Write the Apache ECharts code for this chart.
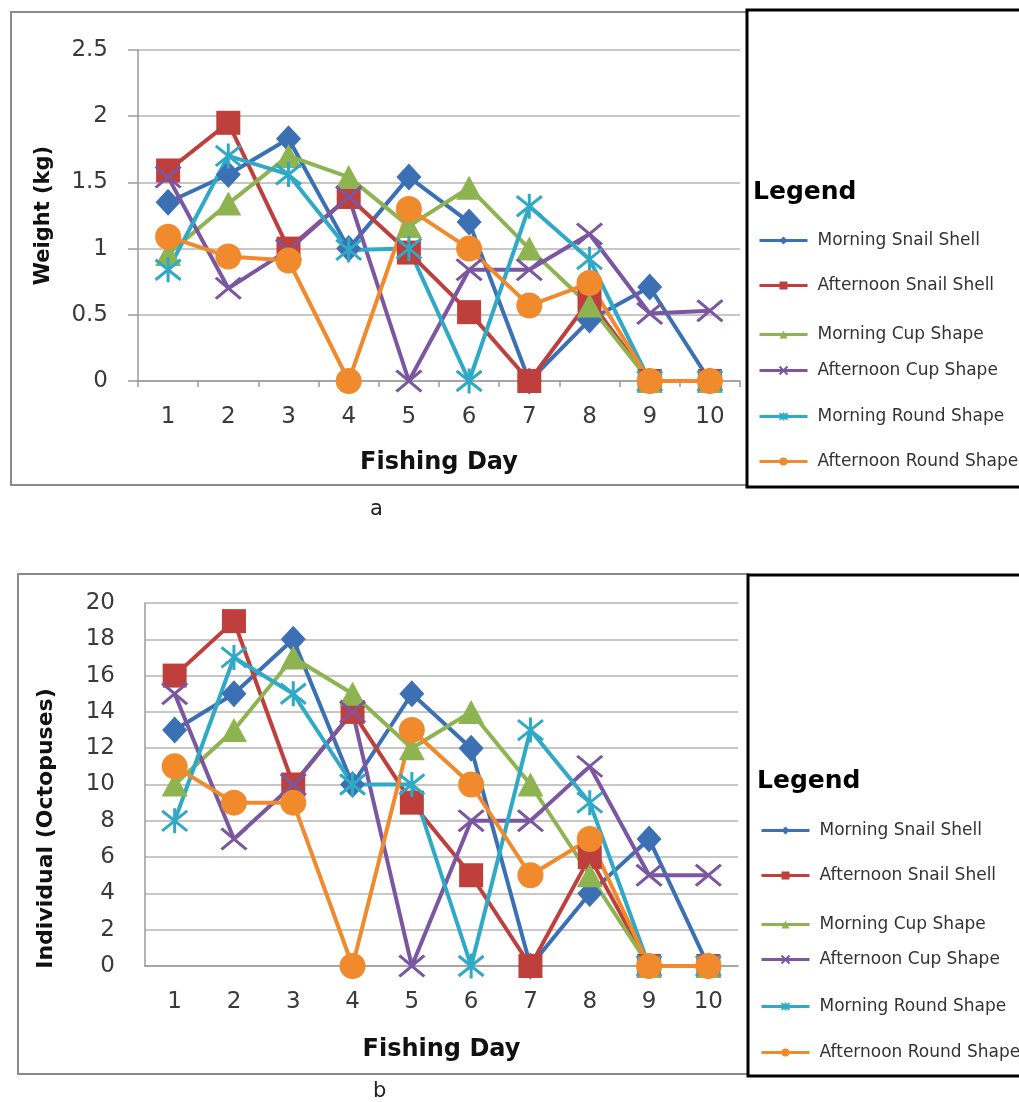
<!DOCTYPE html>
<html>
<head>
<meta charset="utf-8">
<script src="https://cdn.jsdelivr.net/npm/echarts@6/dist/echarts.min.js"></script>
<style>
html,body{margin:0;padding:0;background:#fff;}
#chart{width:1019px;height:1102px;}
</style>
</head>
<body>
<div id="chart"></div>
<script>
// ---------- data ----------
const days = ['1','2','3','4','5','6','7','8','9','10'];
const seriesNames = ['Morning Snail Shell','Afternoon Snail Shell','Morning Cup Shape','Afternoon Cup Shape','Morning Round Shape','Afternoon Round Shape'];

// (a) weight in kg
const weightMorningSnail   = [1.35, 1.56, 1.83, 1.0, 1.54, 1.2, 0, 0.46, 0.71, 0];
const weightAfternoonSnail = [1.59, 1.95, 1.0, 1.39, 0.97, 0.52, 0, 0.61, 0, 0];
const weightMorningCup     = [0.96, 1.34, 1.7, 1.54, 1.17, 1.46, 1.0, 0.57, 0, 0];
const weightAfternoonCup   = [1.54, 0.7, 0.99, 1.39, 0, 0.84, 0.84, 1.11, 0.51, 0.53];
const weightMorningRound   = [0.84, 1.7, 1.56, 0.99, 1.0, 0, 1.32, 0.92, 0, 0];
const weightAfternoonRound = [1.09, 0.94, 0.91, 0, 1.3, 1.0, 0.57, 0.74, 0, 0];

// (b) individuals (octopuses)
const countMorningSnail   = [13, 15, 18, 10, 15, 12, 0, 4, 7, 0];
const countAfternoonSnail = [16, 19, 10, 14, 9, 5, 0, 6, 0, 0];
const countMorningCup     = [10, 13, 17, 15, 12, 14, 10, 5, 0, 0];
const countAfternoonCup   = [15, 7, 10, 14, 0, 8, 8, 11, 5, 5];
const countMorningRound   = [8, 17, 15, 10, 10, 0, 13, 9, 0, 0];
const countAfternoonRound = [11, 9, 9, 0, 13, 10, 5, 7, 0, 0];

const weightAxis = {min: 0, max: 2.5, interval: 0.5};
const countAxis  = {min: 0, max: 20, interval: 2};

// ---------- styles ----------
const colors = ['#3b70b5', '#be3f3c', '#8db450', '#7a57a0', '#2fa9c6', '#f08a2c'];
const X_PATH = 'path://M0,0L12,10M12,0L0,10';
const STAR_PATH = 'path://M0,1L10,9M10,1L0,9M5,0L5,10';
const symbols = [
  {symbol: 'diamond', size: [25, 27]},
  {symbol: 'rect', size: 24},
  {symbol: 'triangle', size: [26, 24]},
  {symbol: X_PATH, size: [25, 21], stroke: true},
  {symbol: STAR_PATH, size: [25, 25], stroke: true},
  {symbol: 'circle', size: 26}
];

const weightData = [weightMorningSnail, weightAfternoonSnail, weightMorningCup, weightAfternoonCup, weightMorningRound, weightAfternoonRound];
const countData = [countMorningSnail, countAfternoonSnail, countMorningCup, countAfternoonCup, countMorningRound, countAfternoonRound];

function makeSeries(dataSets, gridIndex) {
  return dataSets.map((d, i) => ({
    name: seriesNames[i],
    type: 'line',
    xAxisIndex: gridIndex,
    yAxisIndex: gridIndex,
    data: d,
    symbol: symbols[i].symbol,
    symbolSize: symbols[i].size,
    showAllSymbol: true,
    animation: false,
    lineStyle: {color: colors[i], width: 4},
    itemStyle: symbols[i].stroke
      ? {color: colors[i], borderColor: colors[i], borderWidth: 3}
      : {color: colors[i], borderWidth: 0}
  }));
}

const tickFont = {fontFamily: 'DejaVu Sans', fontSize: 23, color: '#3a3a3a'};
const legendText = {fontFamily: 'DejaVu Sans', fontSize: 17, color: '#333', padding: [0, 0, 0, 5]};

// legend layout
const legendTopY = [233, 278, 327, 363, 409, 454];
const legendBotY = [823, 868, 917, 952, 999, 1045];
const legends = [];
legendTopY.forEach((y, i) => legends.push({
  data: [seriesNames[i]], left: 753, top: y - 6, itemWidth: 48, itemHeight: 10,
  textStyle: legendText, lineStyle: {width: 3}, selectedMode: false
}));
legendBotY.forEach((y, i) => legends.push({
  data: [seriesNames[i]], left: 755, top: y - 6, itemWidth: 48, itemHeight: 10,
  textStyle: legendText, lineStyle: {width: 3}, selectedMode: false
}));

const gridLine = {show: true, lineStyle: {color: '#b4b4b4', width: 1.5}};
const axisLine = {show: true, lineStyle: {color: '#9a9a9a', width: 1.5}};
const boldTitle = (size, extra) => Object.assign({fontFamily: 'DejaVu Sans', fontWeight: 'bold', fontSize: size, color: '#111'}, extra || {});

const option = {
  backgroundColor: '#fff',
  animation: false,
  grid: [
    {left: 138, right: 279, top: 50, bottom: 721},
    {left: 145, right: 281, top: 603, bottom: 136}
  ],
  xAxis: [
    {
      type: 'category', gridIndex: 0, data: days, boundaryGap: true,
      axisLine: axisLine,
      axisTick: {show: true, length: 6, lineStyle: {color: '#9a9a9a', width: 1.5}},
      axisLabel: Object.assign({margin: 25}, tickFont),
      name: 'Fishing Day', nameLocation: 'middle', nameGap: 70, nameTextStyle: boldTitle(24)
    },
    {
      type: 'category', gridIndex: 1, data: days, boundaryGap: true,
      axisLine: axisLine,
      axisTick: {show: false},
      axisLabel: Object.assign({margin: 25}, tickFont),
      name: 'Fishing Day', nameLocation: 'middle', nameGap: 72, nameTextStyle: boldTitle(24)
    }
  ],
  yAxis: [
    {
      type: 'value', gridIndex: 0, min: weightAxis.min, max: weightAxis.max, interval: weightAxis.interval,
      axisLine: axisLine,
      axisTick: {show: true, length: 10, lineStyle: {color: '#9a9a9a', width: 1.5}},
      splitLine: gridLine,
      axisLabel: Object.assign({margin: 30}, tickFont),
      name: 'Weight (kg)', nameLocation: 'middle', nameGap: 84, nameTextStyle: boldTitle(21)
    },
    {
      type: 'value', gridIndex: 1, min: countAxis.min, max: countAxis.max, interval: countAxis.interval,
      axisLine: axisLine,
      axisTick: {show: false},
      splitLine: gridLine,
      axisLabel: Object.assign({margin: 30}, tickFont),
      name: 'Individual (Octopuses)', nameLocation: 'middle', nameGap: 88,
      nameTextStyle: boldTitle(22, {padding: [0, 88, 0, 0]})
    }
  ],
  legend: legends,
  graphic: [
    {type: 'rect', shape: {x: 11, y: 12, width: 736, height: 473}, style: {fill: 'none', stroke: '#8a8a8a', lineWidth: 2}, silent: true, z: -1},
    {type: 'rect', shape: {x: 747, y: 10, width: 320, height: 477}, style: {fill: 'none', stroke: '#000', lineWidth: 3}, silent: true},
    {type: 'rect', shape: {x: 18, y: 574, width: 730, height: 500}, style: {fill: 'none', stroke: '#8a8a8a', lineWidth: 2}, silent: true, z: -1},
    {type: 'rect', shape: {x: 748, y: 575, width: 320, height: 501}, style: {fill: 'none', stroke: '#000', lineWidth: 3}, silent: true},
    {type: 'text', left: 753, top: 180, style: {text: 'Legend', fontFamily: 'DejaVu Sans', fontWeight: 'bold', fontSize: 25, fill: '#000'}},
    {type: 'text', left: 757, top: 769, style: {text: 'Legend', fontFamily: 'DejaVu Sans', fontWeight: 'bold', fontSize: 25, fill: '#000'}},
    {type: 'text', left: 370, top: 499, style: {text: 'a', fontFamily: 'DejaVu Sans', fontSize: 21, fill: '#222'}},
    {type: 'text', left: 373, top: 1081, style: {text: 'b', fontFamily: 'DejaVu Sans', fontSize: 21, fill: '#222'}}
  ],
  series: makeSeries(weightData, 0).concat(makeSeries(countData, 1))
};

const chart = echarts.init(document.getElementById('chart'), null, {renderer: 'canvas'});
chart.setOption(option);
</script>
</body>
</html>
